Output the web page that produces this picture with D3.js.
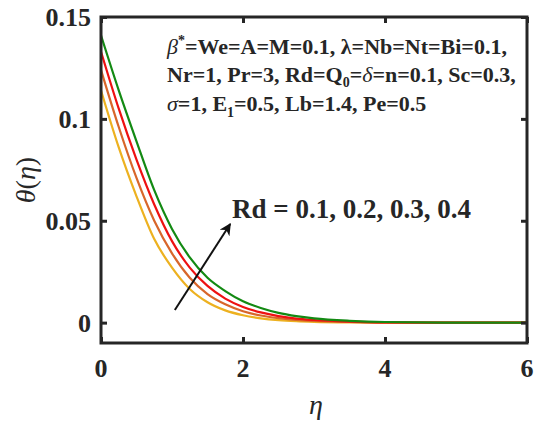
<!DOCTYPE html>
<html>
<head>
<meta charset="utf-8">
<script src="https://cdn.jsdelivr.net/npm/d3@7"></script>
<style>
  html, body { margin: 0; padding: 0; background: #fff; }
</style>
</head>
<body>
<div id="chart"></div>
<script>
// eta grid and temperature profiles for Rd = 0.1 .. 0.4
var eta = [0, 0.25, 0.5, 0.75, 1, 1.25, 1.5, 1.75, 2, 2.25, 2.5, 2.75, 3, 3.5, 4, 5, 6];
var rd01 = [0.114, 0.086, 0.062, 0.041, 0.027, 0.0165, 0.010, 0.006, 0.0036, 0.0021, 0.0012, 0.0007, 0.0004, 0.0001, 0, 0, 0];
var rd02 = [0.124, 0.096, 0.071, 0.050, 0.034, 0.022, 0.014, 0.009, 0.0056, 0.0035, 0.0022, 0.0013, 0.0008, 0.0003, 0, 0, 0];
var rd03 = [0.133, 0.105, 0.080, 0.058, 0.040, 0.027, 0.018, 0.0118, 0.0077, 0.005, 0.0032, 0.002, 0.0013, 0.0005, 0.0001, 0, 0];
var rd04 = [0.141, 0.114, 0.089, 0.065, 0.046, 0.032, 0.022, 0.0155, 0.0105, 0.0072, 0.0048, 0.0032, 0.0021, 0.0009, 0.0003, 0, 0];
var seriesNames = ['Rd = 0.1', 'Rd = 0.2', 'Rd = 0.3', 'Rd = 0.4'];
var seriesColors = ['#edb120', '#d8662a', '#ee1111', '#138a13'];

var xTicks = [0, 2, 4, 6];
var xTickLabels = ['0', '2', '4', '6'];
var yTicks = [0, 0.05, 0.1, 0.15];
var yTickLabels = ['0', '0.05', '0.1', '0.15'];

// arrow from (eta, theta) to (eta, theta)
var arrowFrom = [1.04, 0.0062];
var arrowTo = [1.82, 0.0484];

(function () {
    var W = 534, H = 424;
    var padL = 101, padR = 527, padT = 17, padB = 343;
    var frameC = '#262626';
    var serif = '"Liberation Serif", "Times New Roman", "DejaVu Serif", serif';

    var svg = d3.select('#chart').append('svg')
        .attr('width', W).attr('height', H)
        .style('font-family', serif);

    var x = d3.scaleLinear().domain([0, 6]).range([padL, padR]);
    var y = d3.scaleLinear().domain([-0.01, 0.15]).range([padB, padT]);

    function txt(sel) {
        return sel.attr('font-family', serif).attr('font-weight', 'bold').attr('fill', frameC);
    }

    // 曲线
    var line = d3.line()
        .x(function (d) { return x(d[0]); })
        .y(function (d) { return y(d[1]); })
        .curve(d3.curveMonotoneX);

    [rd01, rd02, rd03, rd04].forEach(function (vals, i) {
        svg.append('path')
            .datum(eta.map(function (e, k) { return [e, vals[k]]; }))
            .attr('d', line)
            .attr('fill', 'none')
            .attr('stroke', seriesColors[i])
            .attr('stroke-width', 2.2);
    });

    // axes with inward ticks on all four sides
    function styleAxis(g) {
        g.select('.domain').remove();
        g.selectAll('.tick line').attr('stroke', frameC).attr('stroke-width', 3);
        g.selectAll('text').remove();
    }
    svg.append('g').attr('transform', 'translate(0,' + padB + ')')
        .call(d3.axisBottom(x).tickValues(xTicks).tickSize(-6)).call(styleAxis);
    svg.append('g').attr('transform', 'translate(0,' + padT + ')')
        .call(d3.axisTop(x).tickValues(xTicks).tickSize(-6)).call(styleAxis);
    svg.append('g').attr('transform', 'translate(' + padL + ',0)')
        .call(d3.axisLeft(y).tickValues(yTicks).tickSize(-6)).call(styleAxis);
    svg.append('g').attr('transform', 'translate(' + padR + ',0)')
        .call(d3.axisRight(y).tickValues(yTicks).tickSize(-6)).call(styleAxis);

    // 外框
    svg.append('rect')
        .attr('x', padL).attr('y', padT)
        .attr('width', padR - padL).attr('height', padB - padT)
        .attr('fill', 'none').attr('stroke', frameC).attr('stroke-width', 3);

    // tick labels
    xTicks.forEach(function (v, i) {
        txt(svg.append('text')).text(xTickLabels[i])
            .attr('x', x(v)).attr('y', 377)
            .attr('text-anchor', 'middle')
            .attr('font-size', 26);
    });
    yTicks.forEach(function (v, i) {
        txt(svg.append('text')).text(yTickLabels[i])
            .attr('x', 91).attr('y', y(v) + 9)
            .attr('text-anchor', 'end')
            .attr('font-size', 26);
    });

    // axis titles
    txt(svg.append('text'))
        .attr('x', 316).attr('y', 414)
        .attr('text-anchor', 'middle')
        .attr('font-size', 28).attr('font-style', 'italic').attr('font-weight', 'normal')
        .text('η');

    var yl = txt(svg.append('text'))
        .attr('transform', 'translate(35,180) rotate(-90)')
        .attr('text-anchor', 'middle')
        .attr('font-size', 28).attr('font-weight', 'normal');
    yl.append('tspan').attr('font-style', 'italic').text('θ');
    yl.append('tspan').text('(');
    yl.append('tspan').attr('font-style', 'italic').text('η');
    yl.append('tspan').text(')');

    // parameter text
    var pfs = 22, sfs = 14;
    var t1 = txt(svg.append('text')).attr('x', 167).attr('y', 54).attr('font-size', pfs);
    t1.append('tspan').attr('font-style', 'italic').attr('font-weight', 'normal').text('β');
    t1.append('tspan').attr('dy', -9).attr('font-size', sfs).text('*');
    t1.append('tspan').attr('dy', 9).text('=We=A=M=0.1, λ=Nb=Nt=Bi=0.1,');

    var t2 = txt(svg.append('text')).attr('x', 167).attr('y', 82).attr('font-size', pfs);
    t2.append('tspan').text('Nr=1, Pr=3, Rd=Q');
    t2.append('tspan').attr('dy', 5).attr('font-size', sfs).text('0');
    t2.append('tspan').attr('dy', -5).text('=');
    t2.append('tspan').attr('font-style', 'italic').attr('font-weight', 'normal').text('δ');
    t2.append('tspan').text('=n=0.1, Sc=0.3,');

    var t3 = txt(svg.append('text')).attr('x', 167).attr('y', 111).attr('font-size', pfs);
    t3.append('tspan').attr('font-style', 'italic').attr('font-weight', 'normal').text('σ');
    t3.append('tspan').text('=1, E');
    t3.append('tspan').attr('dy', 6).attr('font-size', sfs).text('1');
    t3.append('tspan').attr('dy', -6).text('=0.5, Lb=1.4, Pe=0.5');

    // Rd annotation + arrow
    txt(svg.append('text'))
        .attr('x', 232).attr('y', 218)
        .attr('font-size', 27)
        .text('Rd = 0.1, 0.2, 0.3, 0.4');

    svg.append('defs').append('marker')
        .attr('id', 'ah').attr('viewBox', '0 0 10 10')
        .attr('refX', 9).attr('refY', 5)
        .attr('markerWidth', 6).attr('markerHeight', 6)
        .attr('markerUnits', 'strokeWidth')
        .attr('orient', 'auto')
        .append('path').attr('d', 'M0,0 L10,5 L0,10 L3,5 Z').attr('fill', '#111');

    svg.append('line')
        .attr('x1', x(arrowFrom[0])).attr('y1', y(arrowFrom[1]))
        .attr('x2', x(arrowTo[0])).attr('y2', y(arrowTo[1]))
        .attr('stroke', '#111').attr('stroke-width', 2)
        .attr('marker-end', 'url(#ah)');
})();
</script>
</body>
</html>
